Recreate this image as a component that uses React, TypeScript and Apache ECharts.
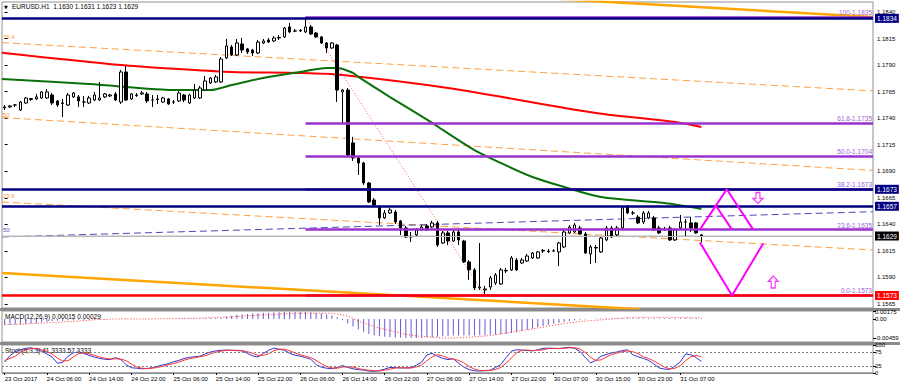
import React, { useEffect, useRef } from 'react';
import * as echarts from 'echarts';

const FONT = 'Liberation Sans, Arial, sans-serif';

// time axis: one label every 8 H1 bars
const timeLabels = ['23 Oct 2017', '24 Oct 06:00', '24 Oct 14:00', '24 Oct 22:00', '25 Oct 06:00', '25 Oct 14:00', '25 Oct 22:00', '26 Oct 06:00', '26 Oct 14:00', '26 Oct 22:00', '27 Oct 06:00', '27 Oct 14:00', '27 Oct 22:00', '30 Oct 07:00', '30 Oct 15:00', '30 Oct 23:00', '31 Oct 07:00'];
const labelStep = 8;
const slotCount = 165; // bars + chart shift
const categories = Array.from({ length: slotCount }, (_, i) => String(i));

// [open, close, low, high]
const candles = [
  [1.17496, 1.17506, 1.17477, 1.17524], [1.17506, 1.17515, 1.17496, 1.17524], [1.17524, 1.17524, 1.17506, 1.17534], [1.17477, 1.17552, 1.17468, 1.17562], [1.17543, 1.17590, 1.17534, 1.17600],
  [1.17576, 1.17585, 1.17562, 1.17590], [1.17581, 1.17600, 1.17571, 1.17628], [1.17590, 1.17647, 1.17581, 1.17656], [1.17590, 1.17647, 1.17581, 1.17675], [1.17618, 1.17543, 1.17524, 1.17637],
  [1.17562, 1.17524, 1.17506, 1.17571], [1.17543, 1.17538, 1.17411, 1.17581], [1.17524, 1.17618, 1.17515, 1.17637], [1.17600, 1.17637, 1.17590, 1.17647], [1.17600, 1.17562, 1.17506, 1.17618],
  [1.17552, 1.17552, 1.17506, 1.17609], [1.17543, 1.17590, 1.17534, 1.17609], [1.17571, 1.17618, 1.17562, 1.17647], [1.17571, 1.17590, 1.17562, 1.17741], [1.17600, 1.17628, 1.17590, 1.17637],
  [1.17609, 1.17618, 1.17600, 1.17628], [1.17628, 1.17571, 1.17562, 1.17647], [1.17552, 1.17835, 1.17534, 1.17854], [1.17835, 1.17571, 1.17562, 1.17891], [1.17581, 1.17628, 1.17571, 1.17637],
  [1.17618, 1.17614, 1.17600, 1.17637], [1.17628, 1.17637, 1.17618, 1.17656], [1.17628, 1.17562, 1.17543, 1.17647], [1.17571, 1.17571, 1.17506, 1.17618], [1.17581, 1.17576, 1.17534, 1.17618],
  [1.17552, 1.17590, 1.17543, 1.17600], [1.17581, 1.17534, 1.17524, 1.17590], [1.17552, 1.17552, 1.17534, 1.17571], [1.17562, 1.17637, 1.17552, 1.17656], [1.17618, 1.17571, 1.17552, 1.17628],
  [1.17543, 1.17618, 1.17534, 1.17628], [1.17590, 1.17665, 1.17581, 1.17722], [1.17590, 1.17684, 1.17581, 1.17703], [1.17665, 1.17750, 1.17656, 1.17797], [1.17731, 1.17778, 1.17722, 1.17788],
  [1.17741, 1.17788, 1.17731, 1.17807], [1.17741, 1.17957, 1.17731, 1.17976], [1.17967, 1.18080, 1.17957, 1.18146], [1.18070, 1.17995, 1.17986, 1.18089], [1.17995, 1.18108, 1.17986, 1.18146],
  [1.18099, 1.18042, 1.18014, 1.18155], [1.18052, 1.18023, 1.18004, 1.18061], [1.18042, 1.18014, 1.17986, 1.18052], [1.18014, 1.18117, 1.18004, 1.18136], [1.18108, 1.18127, 1.18099, 1.18146],
  [1.18136, 1.18117, 1.18108, 1.18155], [1.18127, 1.18155, 1.18117, 1.18174], [1.18155, 1.18160, 1.18136, 1.18183], [1.18165, 1.18249, 1.18155, 1.18259], [1.18259, 1.18212, 1.18202, 1.18296],
  [1.18221, 1.18221, 1.18212, 1.18240], [1.18221, 1.18226, 1.18212, 1.18240], [1.18212, 1.18259, 1.18202, 1.18350], [1.18259, 1.18193, 1.18183, 1.18278], [1.18202, 1.18165, 1.18155, 1.18212],
  [1.18165, 1.18108, 1.18099, 1.18174], [1.18108, 1.18061, 1.18014, 1.18117], [1.18061, 1.18108, 1.18052, 1.18117], [1.18089, 1.17665, 1.17552, 1.18099], [1.17647, 1.17665, 1.17355, 1.17675],
  [1.17665, 1.17053, 1.17034, 1.17684], [1.17167, 1.17025, 1.16997, 1.17223], [1.17025, 1.16978, 1.16865, 1.17044], [1.16978, 1.16790, 1.16771, 1.16988], [1.16790, 1.16611, 1.16601, 1.16799],
  [1.16629, 1.16582, 1.16573, 1.16648], [1.16563, 1.16460, 1.16394, 1.16582], [1.16460, 1.16507, 1.16450, 1.16535], [1.16507, 1.16535, 1.16498, 1.16554], [1.16516, 1.16422, 1.16403, 1.16535],
  [1.16432, 1.16366, 1.16300, 1.16441], [1.16366, 1.16281, 1.16271, 1.16385], [1.16281, 1.16286, 1.16234, 1.16328], [1.16300, 1.16347, 1.16290, 1.16366], [1.16347, 1.16375, 1.16337, 1.16394],
  [1.16385, 1.16347, 1.16337, 1.16403], [1.16375, 1.16413, 1.16366, 1.16432], [1.16413, 1.16205, 1.16187, 1.16432], [1.16224, 1.16319, 1.16215, 1.16337], [1.16319, 1.16243, 1.16205, 1.16337],
  [1.16243, 1.16328, 1.16234, 1.16347], [1.16328, 1.16253, 1.16205, 1.16347], [1.16243, 1.16046, 1.16036, 1.16253], [1.16046, 1.15971, 1.15876, 1.16064], [1.15971, 1.15801, 1.15782, 1.15990],
  [1.15801, 1.15810, 1.15782, 1.16224], [1.15782, 1.15791, 1.15730, 1.15820], [1.15810, 1.15895, 1.15782, 1.15914], [1.15848, 1.15923, 1.15829, 1.15942], [1.15838, 1.15971, 1.15829, 1.15990],
  [1.15961, 1.15966, 1.15942, 1.15990], [1.15971, 1.16083, 1.15961, 1.16102], [1.16064, 1.15971, 1.15961, 1.16083], [1.16036, 1.16064, 1.16027, 1.16083], [1.16055, 1.16102, 1.16046, 1.16121],
  [1.16083, 1.16130, 1.16074, 1.16140], [1.16083, 1.16140, 1.16074, 1.16149], [1.16149, 1.16154, 1.16130, 1.16168], [1.16144, 1.16149, 1.16130, 1.16168], [1.16149, 1.16149, 1.16140, 1.16168],
  [1.16140, 1.16224, 1.16008, 1.16234], [1.16187, 1.16328, 1.16177, 1.16347], [1.16319, 1.16375, 1.16309, 1.16394], [1.16328, 1.16394, 1.16319, 1.16413], [1.16366, 1.16309, 1.16300, 1.16385],
  [1.16309, 1.16130, 1.16121, 1.16328], [1.16121, 1.16187, 1.16027, 1.16205], [1.16177, 1.16182, 1.16036, 1.16205], [1.16140, 1.16271, 1.16130, 1.16290], [1.16253, 1.16366, 1.16243, 1.16385],
  [1.16366, 1.16281, 1.16271, 1.16385], [1.16300, 1.16366, 1.16290, 1.16385], [1.16366, 1.16554, 1.16356, 1.16573], [1.16563, 1.16507, 1.16498, 1.16582], [1.16507, 1.16507, 1.16488, 1.16526],
  [1.16469, 1.16413, 1.16403, 1.16488], [1.16422, 1.16507, 1.16403, 1.16526], [1.16460, 1.16507, 1.16450, 1.16526], [1.16460, 1.16347, 1.16337, 1.16479], [1.16366, 1.16319, 1.16309, 1.16385],
  [1.16356, 1.16356, 1.16337, 1.16375], [1.16366, 1.16253, 1.16243, 1.16385], [1.16253, 1.16347, 1.16243, 1.16366], [1.16366, 1.16422, 1.16356, 1.16488], [1.16422, 1.16422, 1.16281, 1.16450],
  [1.16413, 1.16366, 1.16328, 1.16469], [1.16413, 1.16319, 1.16309, 1.16422], [1.1630, 1.1629, 1.1623, 1.1631],
];
const titleText = 'EURUSD.H1  1.1630 1.1631 1.1623 1.1629';

const priceTicks = [1.1565, 1.1590, 1.1615, 1.1640, 1.1665, 1.1690, 1.1715, 1.1740, 1.1765, 1.1790, 1.1815, 1.1840];
const navyLevels = [1.1834, 1.1673, 1.1657];
const currentPrice = 1.1629;
const supportLevel = 1.1573;

// Fibonacci retracement: from the high bar to the low bar
const fibHigh = { bar: 57, price: 1.1835 };
const fibLow = { bar: 91, price: 1.1573 };
const fibLevels = [
  { pct: '100', price: 1.1835 },
  { pct: '61.8', price: 1.1735 },
  { pct: '50.0', price: 1.1704 },
  { pct: '38.2', price: 1.1673 },
  { pct: '23.6', price: 1.1635 },
  { pct: '0.0', price: 1.1573 },
];

// drawn trend lines: [barIndex, price] end points
const dashedOrange764 = [[-0.5, 1.18111], [164.5, 1.17657]];
const dashedOrange50 = [[-0.5, 1.17406], [164.5, 1.16907]];
const dashedOrange236 = [[-0.5, 1.16611], [164.5, 1.16158]];
const dashedBlue50 = [[-0.5, 1.16281], [164.5, 1.16519]];
const channelLow = [[-0.5, 1.15942], [120.4, 1.15600]];
const channelHigh = [[105.2, 1.18521], [164.5, 1.18353]];

// moving averages read at several bars
const redMA = [[-0.5, 1.18017], [22, 1.17901], [33, 1.17863], [43, 1.17835], [56, 1.17826], [64, 1.17807], [84, 1.17684], [112, 1.17449], [127, 1.17364], [132, 1.17317]];
const greenMA = [[-0.5, 1.17769], [16, 1.17722], [33, 1.17665], [39, 1.17665], [43, 1.17712], [49, 1.17778], [56, 1.17835], [61, 1.17873], [63, 1.17873], [66, 1.17826], [67, 1.17788], [73, 1.17599], [81, 1.17355], [83, 1.17289], [89, 1.17100], [94, 1.16978], [100, 1.16846], [106, 1.16752], [113, 1.16658], [125, 1.16601], [132, 1.16545]];

// projected pattern
const patternUp = [[131.7, 1.1635], [136.8, 1.1673], [141.8, 1.1635]];
const patternUpInner = [[134.8, 1.1657], [137.8, 1.1635]];
const patternDown = [[131.7, 1.1623], [137.8, 1.1573], [143.7, 1.1622]];
const arrowDown = [[142.7, 1.16648]];
const arrowUp = [[145.6, 1.15857]];

const macdTitle = 'MACD(12,26,9) 0.00015 0.00029';
const macdTicks = [0.00175, 0, -0.00459];
const macdHist = [
  -0.0014, -0.0014, -0.0013, -0.0013, -0.0012, -0.0011, -0.0010, -0.0008, -0.0006, -0.0005,
  -0.0004, -0.0004, -0.0003, -0.0003, -0.0002, -0.0002, -0.0002, -0.0001, -0.0001, -0.0001,
  0, 0, 0, 0.0001, 0, 0, 0, 0, 0, 0,
  0, 0, 0, 0.0001, 0.0001, 0.0001, 0.0001, 0.0001, 0.0002, 0.0002,
  0.0002, 0.0003, 0.0006, 0.0008, 0.0010, 0.0011, 0.0012, 0.0013, 0.0014, 0.0015,
  0.0015, 0.0016, 0.0016, 0.0017, 0.0017, 0.0017, 0.0017, 0.0017, 0.0016, 0.0015,
  0.0013, 0.0011, 0.0009, 0.0004, -0.0003, -0.0010, -0.0018, -0.0025, -0.0031, -0.0036,
  -0.0039, -0.0042, -0.0043, -0.0044, -0.0045, -0.0045, -0.0046, -0.0046, -0.0046, -0.0046,
  -0.0045, -0.0044, -0.0043, -0.0042, -0.0041, -0.0040, -0.0040, -0.0040, -0.0040, -0.0040,
  -0.0039, -0.0039, -0.0038, -0.0038, -0.0037, -0.0036, -0.0034, -0.0032, -0.0029, -0.0026,
  -0.0023, -0.0020, -0.0017, -0.0014, -0.0011, -0.0009, -0.0007, -0.0005, -0.0003, -0.0002,
  -0.0001, 0, 0.0001, 0.0001, 0.0002, 0.0002, 0.0002, 0.0002, 0.0002, 0.0002,
  0.0002, 0.0002, 0.0002, 0.0002, 0.0002, 0.0002, 0.0002, 0.0002, 0.0002, 0.0002,
  0.0002, 0.0002, 0.00015,
];
const macdSignal = [
  -0.0014, -0.00135, -0.0013, -0.00125, -0.0012, -0.0011, -0.00105, -0.0010, -0.0009, -0.00085,
  -0.0008, -0.0007, -0.00065, -0.0006, -0.0005, -0.0004, -0.0003, -0.0002, -0.0001, -0.0001,
  -0.00005, 0, 0, 0, 0, 0, 0, 0, 0, 0.00005,
  0.00005, 0.0001, 0.0001, 0.0001, 0.00015, 0.00015, 0.0002, 0.0002, 0.00025, 0.0003,
  0.00035, 0.0004, 0.00045, 0.0005, 0.0006, 0.0007, 0.0008, 0.00085, 0.0009, 0.0010,
  0.00105, 0.0011, 0.0012, 0.00125, 0.0013, 0.00135, 0.0014, 0.0014, 0.0014, 0.0014,
  0.0014, 0.0014, 0.00135, 0.0012, 0.0010, 0.0007, 0.0001, -0.0005, -0.0010, -0.0014,
  -0.0018, -0.0022, -0.0025, -0.0028, -0.0031, -0.0034, -0.0037, -0.0039, -0.0041, -0.0042,
  -0.0043, -0.0044, -0.0045, -0.0046, -0.0046, -0.0046, -0.0045, -0.0045, -0.0044, -0.0043,
  -0.0042, -0.0041, -0.0040, -0.0038, -0.0036, -0.0034, -0.0032, -0.0030, -0.0028, -0.0026,
  -0.0024, -0.0022, -0.0020, -0.0017, -0.0015, -0.0013, -0.0011, -0.0009, -0.0008, -0.0006,
  -0.0005, -0.0004, -0.0003, -0.0002, -0.0001, 0, 0.0001, 0.0002, 0.0003, 0.00035,
  0.0004, 0.0004, 0.0004, 0.0004, 0.0004, 0.0004, 0.0004, 0.00035, 0.00035, 0.0003,
  0.0003, 0.0003, 0.00029,
];

const stochTitle = 'Stoch(5,3,3) 41.3333 57.3333';
const stochTicks = [100, 75, 25, 0];
const stochLevels = [75, 25];
const stochK = [
  39, 62, 76, 83, 88, 90, 85, 78, 68, 57,
  35, 38, 60, 72, 75, 70, 63, 57, 52, 49,
  48, 55, 48, 30, 19, 17, 15, 16, 19, 24,
  29, 33, 40, 45, 52, 56, 58, 60, 68, 75,
  79, 81, 82, 81, 80, 79, 70, 61, 57, 70,
  81, 89, 85, 81, 70, 64, 60, 55, 49, 30,
  21, 17, 15, 20, 27, 20, 15, 12, 10, 7,
  6, 9, 14, 20, 19, 18, 18, 19, 28, 39,
  65, 70, 60, 52, 48, 51, 35, 21, 12, 8,
  7, 9, 10, 20, 30, 55, 78, 83, 82, 80,
  79, 83, 88, 89, 88, 87, 90, 92, 88, 77,
  55, 36, 45, 60, 66, 72, 75, 80, 83, 65,
  58, 52, 45, 32, 18, 14, 13, 25, 40, 68,
  65, 55, 41.3333,
];
const stochD = [
  45, 52, 60, 74, 82, 87, 88, 84, 77, 68,
  53, 43, 44, 57, 69, 72, 69, 63, 57, 53,
  50, 51, 50, 44, 32, 22, 17, 16, 17, 20,
  24, 29, 34, 39, 46, 51, 55, 58, 62, 68,
  74, 78, 81, 81, 81, 80, 76, 70, 63, 63,
  69, 80, 85, 85, 79, 72, 65, 60, 55, 45,
  33, 23, 18, 17, 21, 22, 21, 16, 12, 10,
  8, 7, 10, 14, 18, 19, 18, 18, 22, 29,
  44, 58, 65, 61, 53, 50, 45, 36, 23, 14,
  9, 8, 9, 13, 20, 35, 54, 72, 81, 82,
  80, 81, 83, 87, 88, 88, 88, 90, 90, 86,
  73, 56, 45, 47, 57, 66, 71, 76, 79, 76,
  69, 58, 52, 43, 32, 21, 15, 17, 26, 44,
  58, 63, 57.3333,
];

const NAVY = '#000080';
const PURPLE = '#9A32CD';
const ORANGE = '#FFA040';
const MAGENTA = '#FF00FF';

const isLabelIndex = (i: number) => i % labelStep === 0 && i / labelStep < timeLabels.length;

function buildOption() {
  const left = -0.5;
  const right = slotCount - 0.5;
  const priceLineLabel = (text: string, bg: string) => ({
    show: true,
    position: 'end',
    distance: 2,
    formatter: text,
    backgroundColor: bg,
    color: '#ffffff',
    fontSize: 6.5,
    fontFamily: FONT,
    padding: [1, 2, 1, 2],
  });
  const hLine = (v: number, color: string, width: number, bg: string) => [
    { coord: [left, v], lineStyle: { color, width, type: 'solid' }, label: priceLineLabel(v.toFixed(4), bg) },
    { coord: [right, v] },
  ];

  const overlayLine = (name: string, data: number[][], color: string, width: number, type: any, extra: any = {}) => ({
    name,
    type: 'line',
    xAxisIndex: 1,
    yAxisIndex: 0,
    data,
    symbol: 'none',
    silent: true,
    lineStyle: { color, width, type },
    z: 3,
    ...extra,
  });

  return {
    animation: false,
    backgroundColor: '#ffffff',
    textStyle: { fontFamily: FONT },
    grid: [
      { left: 2, top: 2, width: 871, height: 306, show: true, borderColor: '#909090', borderWidth: 1, outerBoundsMode: 'none' },
      { left: 2, top: 311, width: 871, height: 31, show: true, borderColor: '#909090', borderWidth: 1, outerBoundsMode: 'none' },
      { left: 2, top: 345, width: 871, height: 28, show: true, borderColor: '#909090', borderWidth: 1, outerBoundsMode: 'none' },
    ],
    xAxis: [
      { type: 'category', gridIndex: 0, data: categories, show: false },
      { type: 'value', gridIndex: 0, min: left, max: right, show: false },
      { type: 'category', gridIndex: 1, data: categories, show: false },
      {
        type: 'category',
        gridIndex: 2,
        data: categories,
        axisLine: { show: false },
        axisTick: { show: true, alignWithLabel: true, interval: (i: number) => isLabelIndex(i), length: 2, lineStyle: { color: '#000' } },
        axisLabel: {
          interval: (i: number) => isLabelIndex(i),
          formatter: (_v: string, i: number) => timeLabels[i / labelStep] ?? '',
          align: 'left',
          fontSize: 6,
          color: '#000',
          margin: 3,
          fontFamily: FONT,
        },
      },
    ],
    yAxis: [
      {
        type: 'value', gridIndex: 0, position: 'right', min: 1.15612, max: 1.18494,
        splitLine: { show: false }, axisLine: { show: false },
        axisTick: { show: true, customValues: priceTicks, length: 3, lineStyle: { color: '#000' } },
        axisLabel: { customValues: priceTicks, formatter: (v: number) => v.toFixed(4), fontSize: 6, color: '#000', margin: 4, fontFamily: FONT },
      },
      {
        type: 'value', gridIndex: 1, position: 'right', min: -0.00556, max: 0.00193,
        splitLine: { show: false }, axisLine: { show: false },
        axisTick: { show: true, customValues: macdTicks, length: 3, lineStyle: { color: '#000' } },
        axisLabel: { customValues: macdTicks, formatter: (v: number) => (v === 0 ? '0.00' : v.toFixed(5)), fontSize: 6, color: '#000', margin: 2, fontFamily: FONT },
      },
      {
        type: 'value', gridIndex: 2, position: 'right', min: 0, max: 100,
        splitLine: { show: false }, axisLine: { show: false },
        axisTick: { show: true, customValues: stochTicks, length: 3, lineStyle: { color: '#000' } },
        axisLabel: { customValues: stochTicks, formatter: (v: number) => String(v), fontSize: 6, color: '#000', margin: 2, fontFamily: FONT },
      },
    ],
    graphic: [
      { type: 'rect', shape: { x: 0, y: 308, width: 900, height: 3 }, style: { fill: '#8a8a8a' }, silent: true },
      { type: 'rect', shape: { x: 0, y: 342, width: 900, height: 3 }, style: { fill: '#8a8a8a' }, silent: true },
      { type: 'rect', shape: { x: 2, y: 372.5, width: 871, height: 1.5 }, style: { fill: '#8a8a8a' }, silent: true },
      { type: 'text', x: 4, y: 4, style: { text: '▼', fontSize: 5, fill: '#000', fontFamily: 'DejaVu Sans' } },
      { type: 'text', x: 12, y: 3, style: { text: titleText, fontSize: 6.5, fill: '#000', fontFamily: FONT } },
      { type: 'text', x: 3, y: 34, style: { text: '76.4', fontSize: 6, fill: ORANGE, fontFamily: FONT } },
      { type: 'text', x: 3, y: 112, style: { text: '50', fontSize: 6, fill: ORANGE, fontFamily: FONT } },
      { type: 'text', x: 3, y: 193, style: { text: '23.6', fontSize: 6, fill: ORANGE, fontFamily: FONT } },
      { type: 'text', x: 3, y: 227, style: { text: '50', fontSize: 6, fill: '#5050B0', fontFamily: FONT } },
      { type: 'text', x: 5, y: 313, style: { text: macdTitle, fontSize: 6.5, fill: '#000', fontFamily: FONT } },
      { type: 'text', x: 5, y: 347, style: { text: stochTitle, fontSize: 6.5, fill: '#000', fontFamily: FONT } },
    ],
    series: [
      overlayLine('channel76', dashedOrange764, ORANGE, 1, [7, 4]),
      overlayLine('channel50', dashedOrange50, ORANGE, 1, [7, 4]),
      overlayLine('channel236', dashedOrange236, ORANGE, 1, [7, 4]),
      overlayLine('channelBlue', dashedBlue50, '#4848B8', 1, [7, 4]),
      overlayLine('channelLow', channelLow, '#FFA500', 2.5, 'solid'),
      overlayLine('channelHigh', channelHigh, '#FFA500', 2.5, 'solid'),
      overlayLine('ma red', redMA, '#FF0000', 2, 'solid', { smooth: 0.3 }),
      overlayLine('ma green', greenMA, '#0A700A', 2, 'solid', { smooth: 0.3 }),
      overlayLine('fib base', [[fibHigh.bar, fibHigh.price], [fibLow.bar, fibLow.price]], '#FF5050', 1, [1, 2], {
        markLine: {
          silent: true,
          symbol: ['none', 'none'],
          lineStyle: { color: PURPLE, width: 2.5, type: 'solid' },
          label: { show: false },
          data: fibLevels.map((f) => [
            {
              coord: [fibHigh.bar, f.price],
              lineStyle: { color: PURPLE, width: 2.5, type: 'solid' },
              label: {
                show: true, position: 'insideEndTop', distance: 1,
                formatter: `${f.pct}-${f.price.toFixed(4)}`,
                color: '#A060D8', fontSize: 6.5, fontFamily: FONT,
              },
            },
            { coord: [right, f.price] },
          ]),
        },
      }),
      {
        name: 'EURUSD',
        type: 'candlestick',
        xAxisIndex: 0,
        yAxisIndex: 0,
        data: candles,
        barWidth: 3,
        z: 4,
        itemStyle: { color: '#ffffff', color0: '#000000', borderColor: '#000000', borderColor0: '#000000', borderWidth: 1 },
      },
      overlayLine('price levels', [[left, currentPrice], [right, currentPrice]], '#B8B8B8', 1, 'solid', {
        markLine: {
          silent: true,
          symbol: ['none', 'none'],
          label: { show: false },
          data: [
            ...navyLevels.map((v) => hLine(v, NAVY, 2.5, NAVY)),
            hLine(currentPrice, '#B8B8B8', 1, '#000000'),
            hLine(supportLevel, '#FF0000', 2.5, '#FF0000'),
          ],
        },
      }),
      overlayLine('pattern up', patternUp, MAGENTA, 2, 'solid', { z: 6 }),
      overlayLine('pattern up inner', patternUpInner, MAGENTA, 2, 'solid', { z: 6 }),
      overlayLine('pattern down', patternDown, MAGENTA, 2, 'solid', { z: 6 }),
      {
        name: 'arrow down', type: 'scatter', xAxisIndex: 1, yAxisIndex: 0, data: arrowDown, silent: true, z: 6,
        symbol: 'path://M3,0 L7,0 L7,6 L10,6 L5,11 L0,6 L3,6 Z', symbolSize: [10, 11],
        itemStyle: { color: '#ffffff', borderColor: MAGENTA, borderWidth: 1.2 },
      },
      {
        name: 'arrow up', type: 'scatter', xAxisIndex: 1, yAxisIndex: 0, data: arrowUp, silent: true, z: 6,
        symbol: 'path://M5,0 L10,5 L7,5 L7,11 L3,11 L3,5 L0,5 Z', symbolSize: [10, 12],
        itemStyle: { color: '#ffffff', borderColor: MAGENTA, borderWidth: 1.2 },
      },
      {
        name: 'MACD', type: 'bar', xAxisIndex: 2, yAxisIndex: 1, data: macdHist, barWidth: 1, silent: true,
        itemStyle: { color: '#6A5ACD' },
      },
      {
        name: 'Signal', type: 'line', xAxisIndex: 2, yAxisIndex: 1, data: macdSignal, symbol: 'none', silent: true,
        lineStyle: { color: '#FF3030', width: 1, type: [1, 2] },
      },
      {
        name: 'Stoch main', type: 'line', xAxisIndex: 3, yAxisIndex: 2, data: stochK, symbol: 'none', silent: true,
        lineStyle: { color: '#3434D0', width: 1 },
        markLine: {
          silent: true, symbol: ['none', 'none'], label: { show: false },
          lineStyle: { color: '#808080', width: 1, type: [2, 2] },
          data: stochLevels.map((v) => ({ yAxis: v })),
        },
      },
      {
        name: 'Stoch signal', type: 'line', xAxisIndex: 3, yAxisIndex: 2, data: stochD, symbol: 'none', silent: true,
        lineStyle: { color: '#FF3333', width: 1 },
      },
    ],
  };
}

export default function App() {
  const ref = useRef<HTMLDivElement>(null);
  useEffect(() => {
    if (!ref.current) return;
    const chart = echarts.init(ref.current, undefined, { renderer: 'svg' });
    chart.setOption(buildOption() as any);
    return () => chart.dispose();
  }, []);
  return (
    <div
      ref={ref}
      style={{ position: 'fixed', left: 0, top: 0, width: 900, height: 387, background: '#ffffff' }}
    />
  );
}
